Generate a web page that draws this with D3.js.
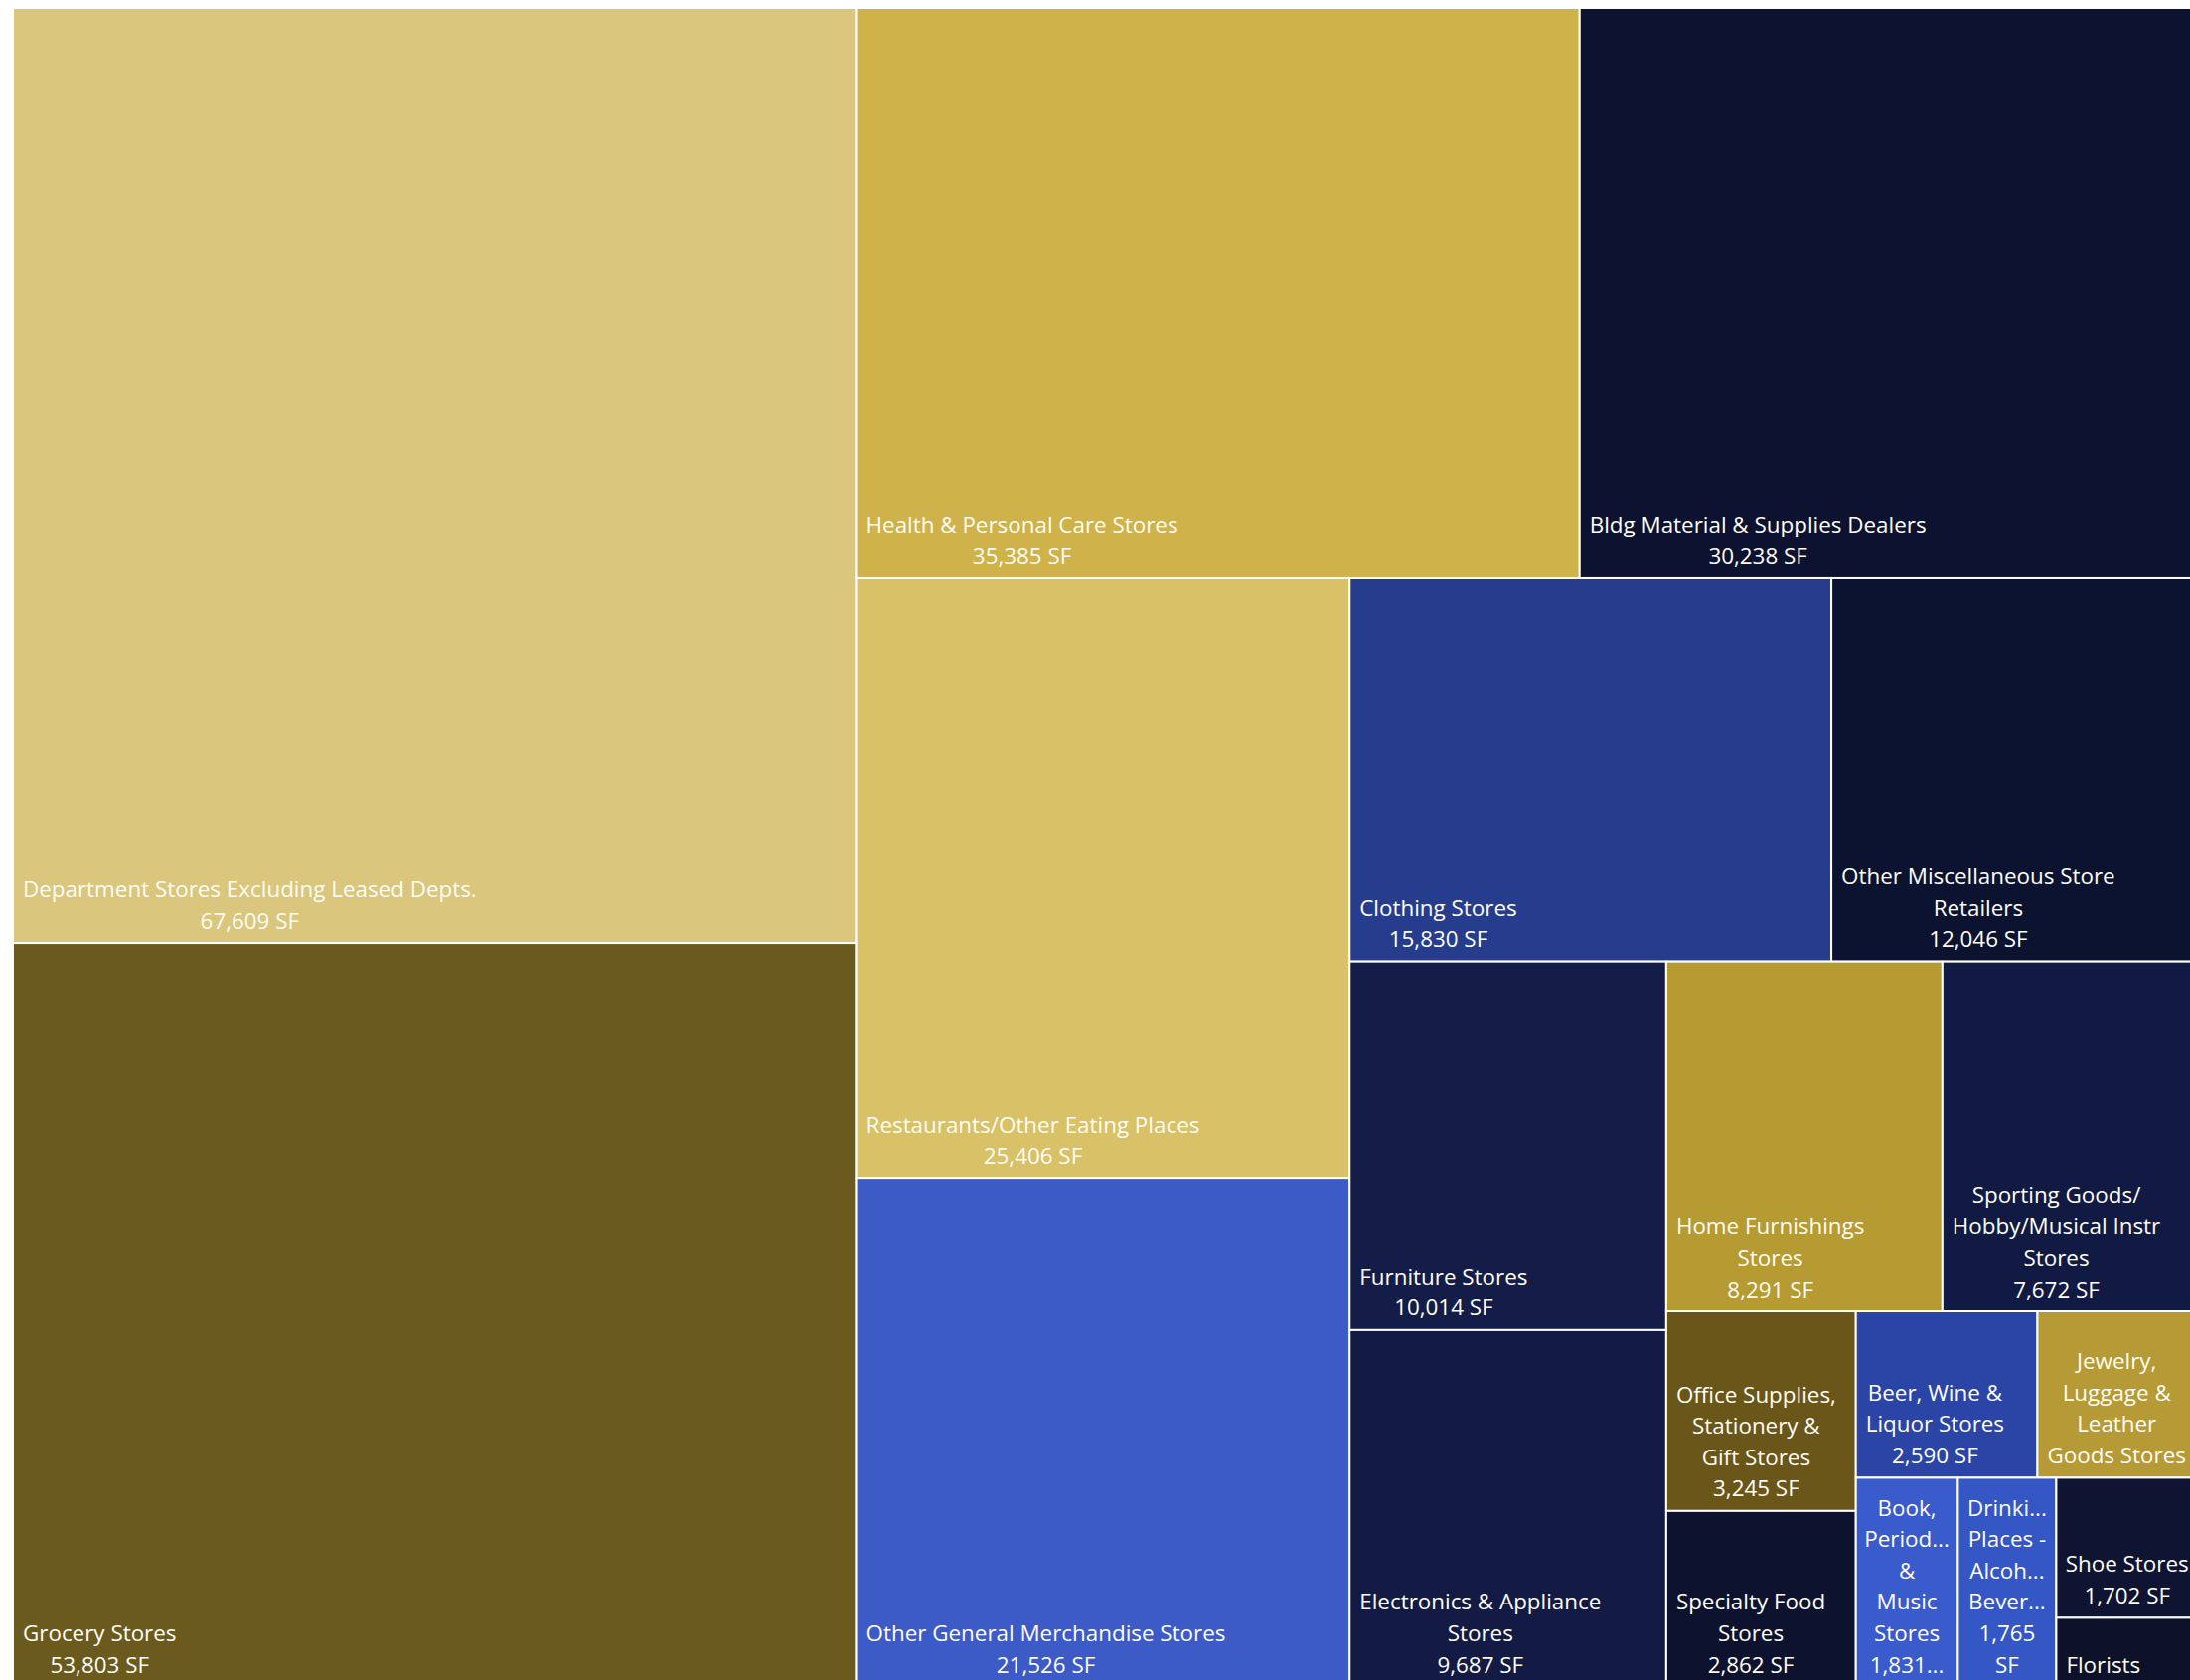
<!DOCTYPE html>
<html>
<head>
<meta charset="utf-8">
<script src="https://cdn.jsdelivr.net/npm/d3@7"></script>
<style>
  html, body { margin: 0; padding: 0; background: #ffffff; overflow: hidden; }
  svg { display: block; }
</style>
</head>
<body>
<svg id="chart" width="2204" height="1691"></svg>
<script>
// Retail space demand by store type (square feet)
const categories = [
  "Department Stores Excluding Leased Depts.",
  "Grocery Stores",
  "Health & Personal Care Stores",
  "Bldg Material & Supplies Dealers",
  "Restaurants/Other Eating Places",
  "Other General Merchandise Stores",
  "Clothing Stores",
  "Other Miscellaneous Store Retailers",
  "Furniture Stores",
  "Electronics & Appliance Stores",
  "Home Furnishings Stores",
  "Sporting Goods/ Hobby/Musical Instr Stores",
  "Office Supplies, Stationery & Gift Stores",
  "Specialty Food Stores",
  "Beer, Wine & Liquor Stores",
  "Jewelry, Luggage & Leather Goods Stores",
  "Book, Periodical & Music Stores",
  "Drinking Places - Alcoholic Beverages",
  "Shoe Stores",
  "Florists"
];

const values = [
  67609, 53803, 35385, 30238, 25406, 21526, 15830, 12046, 10014, 9687,
  8291, 7672, 3245, 2862, 2590, 2290, 1831, 1765, 1702, 840
];

const colors = [
  "#DAC67C", "#6B5A1D", "#CFB24A", "#0C1230", "#D9C168",
  "#3D5BC7", "#263D8E", "#0C1331", "#141D47", "#131B44",
  "#B69A32", "#111A42", "#6A5619", "#0D132E", "#2B45A6",
  "#B69A36", "#3A5BCB", "#3556C5", "#0E1431", "#0D1129"
];

const unitSuffix = " SF";

// ---- layout constants ----
const OX = 13, OY = 8, W = 2199, H = 1690;
const FONT = "22.4px 'Open Sans', 'Segoe UI', sans-serif";
const LINE_H = 31.6;
const GAIN = 0.8; // a row only grows when the worst aspect ratio improves clearly
const labelWidth = w => 0.97 * w - 13.25; // room given to a label inside a tile
const ELLIPSIS = "...";

const fmt = d3.format(",");

const data = categories.map((name, i) => ({ name, value: values[i], color: colors[i] }));

// Squarified tiling: rows run along the shorter side of the remaining rectangle.
function squarifyTile(parent, x0, y0, x1, y1) {
  const nodes = parent.children;
  const n = nodes.length;
  let value = parent.value, i0 = 0;
  while (i0 < n) {
    const dx = x1 - x0, dy = y1 - y0;
    const side = Math.min(dx, dy);
    const k = (dx * dy) / value;
    let i1 = i0, sum = 0, best = Infinity;
    while (i1 < n) {
      const s = sum + nodes[i1].value;
      const t = s * k / side;
      let worst = 0;
      for (let j = i0; j <= i1; j++) {
        const len = nodes[j].value * k / t;
        worst = Math.max(worst, t / len, len / t);
      }
      if (i1 > i0 && worst > best * GAIN) break;
      best = worst; sum = s; i1++;
    }
    const row = { value: sum, children: nodes.slice(i0, i1) };
    if (dx < dy) {
      const y = i1 >= n ? y1 : y0 + dy * sum / value;
      d3.treemapDice(row, x0, y0, x1, y);
      y0 = y;
    } else {
      const x = i1 >= n ? x1 : x0 + dx * sum / value;
      d3.treemapSlice(row, x0, y0, x, y1);
      x0 = x;
    }
    value -= sum;
    i0 = i1;
  }
}

const root = d3.hierarchy({ children: data })
  .sum(d => d.value || 0)
  .sort((a, b) => b.value - a.value);

d3.treemap().tile(squarifyTile).size([W, H]).round(false)(root);

const svg = d3.select("#chart");
const g = svg.append("g").attr("transform", `translate(${OX},${OY})`);

// text measurement (spaces kept so that leading blanks count)
const measurer = svg.append("text")
  .style("font", FONT)
  .style("white-space", "pre")
  .attr("xml:space", "preserve")
  .attr("visibility", "hidden");
const widthCache = new Map();
function textWidth(s) {
  if (!widthCache.has(s)) { measurer.text(s); widthCache.set(s, measurer.node().getComputedTextLength()); }
  return widthCache.get(s);
}

// cut a string down so that it fits, marking the cut with an ellipsis
function tailor(text, maxW) {
  if (textWidth(text) <= maxW) return text;
  for (let L = text.length - 1; L >= 1; L--) {
    const s = text.slice(0, L).replace(/\s+$/, "") + ELLIPSIS;
    if (textWidth(s) <= maxW) return s;
  }
  return text.slice(0, 1) + ELLIPSIS;
}

// greedy word wrap; the last permitted line takes whatever is left
function splitByWidth(content, maxW, maxLines) {
  const words = content.split(" ");
  const out = [];
  let used = 0, inLine = [];
  for (const word of words) {
    if (maxLines > 0 && out.length >= maxLines - 1) { inLine.push(word); continue; }
    const ww = inLine.length === 0 ? textWidth(word) : textWidth(" " + word);
    if (used + ww > maxW) {
      if (inLine.length === 0) {
        out.push(tailor(word, maxW));
        used = 0; inLine = [];
        continue;
      }
      out.push(tailor(inLine.join(" "), maxW));
      used = 0; inLine = [];
    }
    inLine.push(word);
    used += ww;
  }
  if (inLine.length) out.push(tailor(inLine.join(" "), maxW));
  return out;
}

const leaves = g.selectAll("g.cell")
  .data(root.leaves())
  .join("g")
  .attr("class", "cell");

leaves.append("rect")
  .attr("x", d => d.x0)
  .attr("y", d => d.y0)
  .attr("width", d => d.x1 - d.x0)
  .attr("height", d => d.y1 - d.y0)
  .attr("fill", d => d.data.color)
  .attr("stroke", "#ffffff")
  .attr("stroke-width", 2);

leaves.each(function (d) {
  const w = d.x1 - d.x0, h = d.y1 - d.y0;
  const maxW = labelWidth(w);
  const maxLines = Math.floor((h - 13) / LINE_H);
  if (maxLines < 1 || maxW <= 0) return;
  let lines = splitByWidth(d.data.name, maxW, maxLines);
  const rest = maxLines - lines.length;
  if (rest > 0) lines = lines.concat(splitByWidth(fmt(d.data.value) + unitSuffix, maxW, rest));

  const blockW = d3.max(lines, l => textWidth(l));
  const padL = Math.min(10, Math.max(0, (w - blockW) / 2));
  const cx = d.x0 + padL + blockW / 2;
  const nL = lines.length;
  const txt = d3.select(this).append("text")
    .style("font", FONT)
    .attr("fill", "#FFFDF5")
    .attr("text-anchor", "middle");
  lines.forEach((l, i) => {
    txt.append("tspan")
      .attr("x", cx)
      .attr("y", d.y1 - 22.5 - (nL - 1 - i) * LINE_H)
      .attr("dy", "0.36em")
      .text(l);
  });
});

measurer.remove();
</script>
</body>
</html>
